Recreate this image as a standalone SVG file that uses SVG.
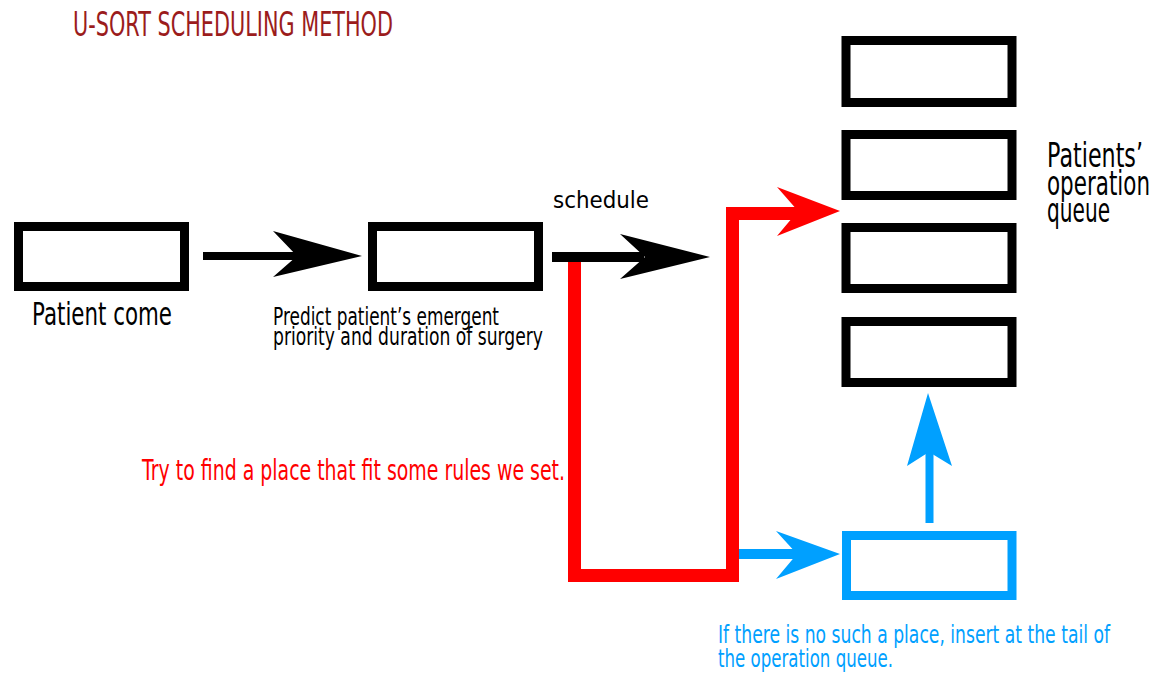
<svg xmlns="http://www.w3.org/2000/svg" width="1159" height="676" viewBox="0 0 1159 676">
<style>
  text { font-family: "Liberation Sans Narrow", "DejaVu Sans", sans-serif; }
  .box { fill: #ffffff; stroke: #000000; stroke-width: 9; }
  .bbox { fill: #ffffff; stroke: #00a0ff; stroke-width: 9; }
  .blk { fill: #000000; }
  .red { fill: #ff0000; }
  .blu { fill: #00a0ff; }
</style>
<rect width="1159" height="676" fill="#ffffff"/>
<text x="73" y="36" font-size="33" fill="#9b1c1c" textLength="320" lengthAdjust="spacingAndGlyphs">U-SORT SCHEDULING METHOD</text>

<g id="connectors">
  <path d="M574.5,262 V575.5 H732.5 V213.5 H800" fill="none" stroke="#ff0000" stroke-width="13" stroke-linejoin="miter"/>
  <polygon class="red" points="777,187 840,211 777,236 798,211"/>
  <rect class="blk" x="203" y="252" width="97" height="8"/>
  <polygon class="blk" points="273,231 362,256 273,277 297,256"/>
  <rect class="blk" x="552" y="252" width="92" height="10"/>
  <polygon class="blk" points="620,234 710,257 620,279 645,257"/>
  <rect class="blu" x="739" y="549" width="62" height="10"/>
  <polygon class="blu" points="776,531 840,554 776,579 797,554"/>
  <rect class="blu" x="925.5" y="450" width="8" height="73"/>
  <polygon class="blu" points="928,393 952,466 929,452 907,466"/>
</g>

<g id="patient-come">
  <rect class="box" x="18.5" y="226.5" width="166" height="60"/>
  <text x="32" y="325" font-size="32" fill="#000" textLength="140" lengthAdjust="spacingAndGlyphs">Patient come</text>
</g>

<g id="predict">
  <rect class="box" x="372.5" y="226.5" width="166" height="60"/>
  <text x="273" y="325" font-size="24" fill="#000" textLength="226" lengthAdjust="spacingAndGlyphs">Predict patient’s emergent</text>
  <text x="273" y="345" font-size="24" fill="#000" textLength="270" lengthAdjust="spacingAndGlyphs">priority and duration of surgery</text>
</g>

<g id="schedule-label">
  <text x="553" y="208" font-size="23" fill="#000" textLength="96" lengthAdjust="spacingAndGlyphs">schedule</text>
</g>

<g id="rule-label">
  <text x="142" y="480" font-size="29" fill="#ff0000" textLength="423" lengthAdjust="spacingAndGlyphs">Try to find a place that fit some rules we set.</text>
</g>

<g id="queue">
  <rect class="box" x="846" y="40.5" width="166" height="62"/>
  <rect class="box" x="846" y="134.5" width="166" height="61"/>
  <rect class="box" x="846" y="227.5" width="166" height="61"/>
  <rect class="box" x="846" y="321.5" width="166" height="61"/>
  <text x="1047" y="167" font-size="34" fill="#000" textLength="96" lengthAdjust="spacingAndGlyphs">Patients’</text>
  <text x="1047" y="195" font-size="34" fill="#000" textLength="103" lengthAdjust="spacingAndGlyphs">operation</text>
  <text x="1047" y="222" font-size="34" fill="#000" textLength="63" lengthAdjust="spacingAndGlyphs">queue</text>
</g>

<g id="tail">
  <rect class="bbox" x="846.5" y="535.5" width="165.5" height="60"/>
  <text x="718" y="643" font-size="25" fill="#00a0ff" textLength="392" lengthAdjust="spacingAndGlyphs">If there is no such a place, insert at the tail of</text>
  <text x="718" y="667" font-size="25" fill="#00a0ff" textLength="175" lengthAdjust="spacingAndGlyphs">the operation queue.</text>
</g>
</svg>
